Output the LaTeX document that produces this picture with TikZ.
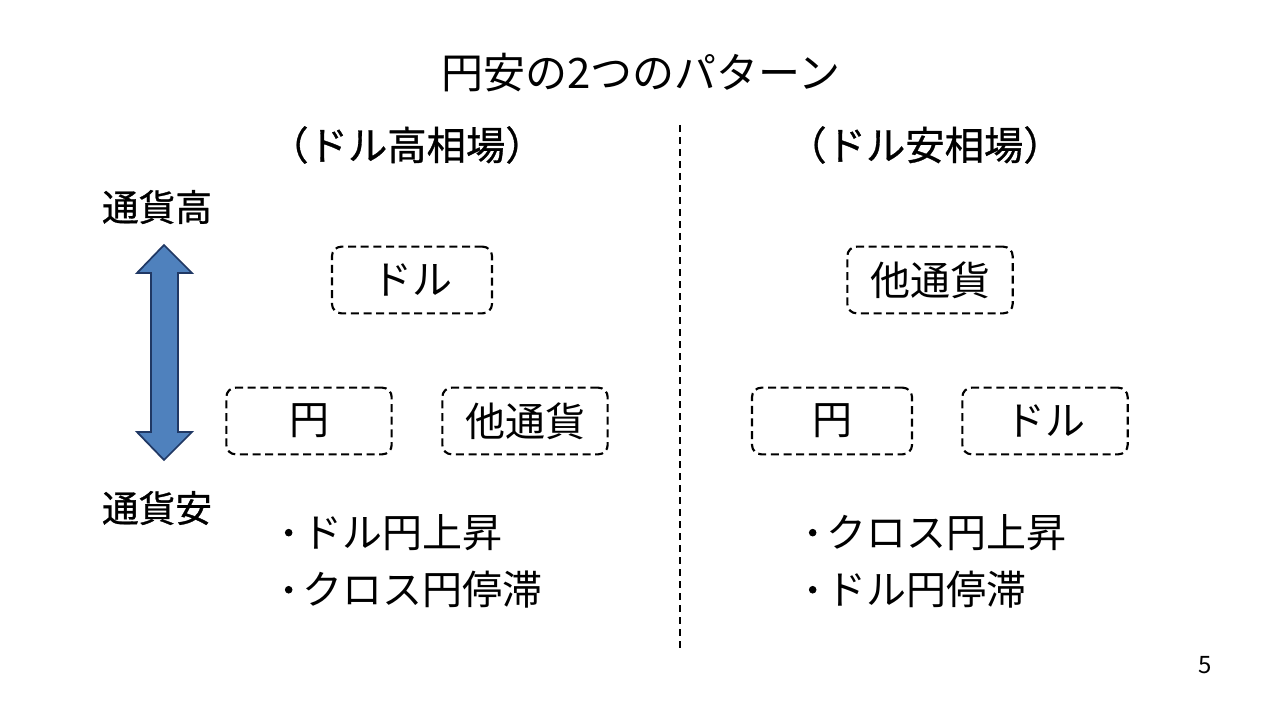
\documentclass[tikz,border=0pt]{standalone}
\usepackage{fontspec}
\setmainfont{Noto Sans CJK JP}
\newfontfamily\medcjk{Noto Sans CJK JP}[FakeBold=0.8]
\newfontfamily\bldcjk{Noto Sans CJK JP}[FakeBold=2]
\begin{document}
\begin{tikzpicture}[x=0.75pt,y=-0.75pt,
  cbox/.style={draw=black,line width=1.6pt,dash pattern=on 6pt off 3.5pt,rounded corners=7pt,minimum height=50pt,inner sep=0pt},
  boxtxt/.style={font=\fontsize{30}{36}\selectfont},
  hdr/.style={font=\medcjk\fontsize{29.5}{34}\selectfont},
  side/.style={font=\medcjk\fontsize{27.5}{32}\selectfont},
  bul/.style={font=\fontsize{30}{36}\selectfont,anchor=west},
]
\useasboundingbox (0,0) rectangle (1280,720);
\fill[white] (0,0) rectangle (1280,720);
\node[font=\fontsize{31.5}{38}\selectfont] (title) at (641,73) {円安の2つのパターン};
\node[hdr] (hl) at (407,145) {（ドル高相場）};
\node[hdr] (hr) at (925,145) {（ドル安相場）};
\coordinate (vtop) at (680,125);
\coordinate (vbot) at (680,652);
\draw[line width=1.2pt,dash pattern=on 5pt off 4pt] (vtop) -- (vbot);
\node[side] (hi) at (157,207) {通貨高};
\node[side] (lo) at (157,508) {通貨安};
\fill[fill={rgb,255:red,79;green,129;blue,189},draw={rgb,255:red,32;green,56;blue,100},line width=1.3pt,line join=miter]
  (164,245) -- (192,273) -- (178,273) -- (178,432) -- (192,432) -- (164,460) -- (137,432) -- (151,432) -- (151,273) -- (137,273) -- cycle;
% left
\node[cbox,boxtxt,minimum width=120pt] (ldol) at (412,280) {ドル};
\node[cbox,boxtxt,minimum width=124pt] (lyen) at (309,421) {円};
\node[cbox,boxtxt,minimum width=124pt] (loth) at (525,421) {他通貨};
% right
\node[cbox,boxtxt,minimum width=124pt] (roth) at (930,280) {他通貨};
\node[cbox,boxtxt,minimum width=120pt] (ryen) at (832,421) {円};
\node[cbox,boxtxt,minimum width=124pt] (rdol) at (1045,421) {ドル};
\node[bul] (lb1) at (274,533) {{\bldcjk ･}\kern0.1em ドル円上昇};
\node[bul] (lb2) at (274,590) {{\bldcjk ･}\kern0.1em クロス円停滞};
\node[bul] (rb1) at (798,533) {{\bldcjk ･}\kern0.1em クロス円上昇};
\node[bul] (rb2) at (798,590) {{\bldcjk ･}\kern0.1em ドル円停滞};
\node[font=\fontsize{18}{22}\selectfont] (pg) at (1205,665) {5};
\end{tikzpicture}
\end{document}
